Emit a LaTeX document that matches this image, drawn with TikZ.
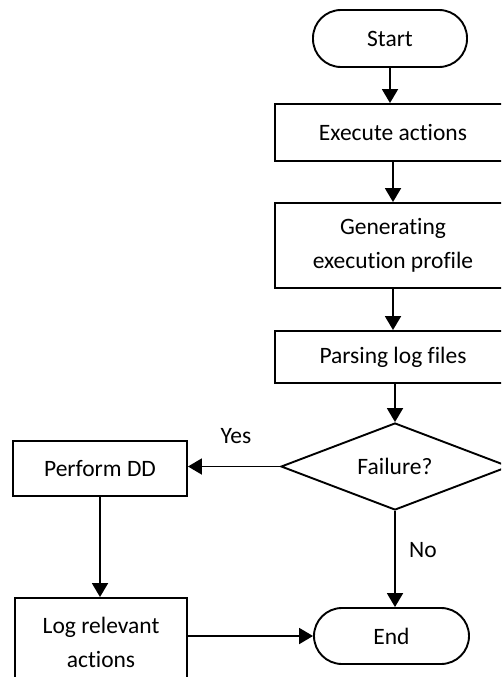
\documentclass[tikz,border=0pt]{standalone}
\usepackage{fontspec}
\setmainfont{Carlito}[Ligatures=NoCommon]
\usetikzlibrary{shapes.geometric,arrows.meta}
\begin{document}
\begin{tikzpicture}[x=1pt,y=-1pt,
  every node/.style={font=\fontsize{23.5}{34}\selectfont},
  base/.style={draw,line width=1.9pt,inner sep=0pt,align=center},
  procbox/.style={base,rectangle},
  term/.style={base,rectangle,rounded corners=28pt},
  decide/.style={base,diamond,shape aspect=2.6},
  flow/.style={line width=1.9pt,-{Triangle[length=14pt,width=16pt]}},
  lbl/.style={inner sep=0pt}]
\useasboundingbox (0,0) rectangle (501,677);
\clip (0,0) rectangle (501,677);

% main column
\node[term,minimum width=154pt,minimum height=57pt] (start) at (390,38.5) {Start};
\node[procbox,minimum width=236pt,minimum height=57pt] (exec) at (393,132.5) {Execute actions};
\node[procbox,minimum width=236pt,minimum height=85pt] (gen) at (393,245.5) {Generating\\execution profile};
\node[procbox,minimum width=236pt,minimum height=52pt] (parse) at (393,357) {Parsing log files};
\node[decide,minimum width=228pt,minimum height=87pt] (fail) at (395,466.5) {Failure?};
\node[term,minimum width=155pt,minimum height=56pt] (end) at (391.5,636) {End};

% left branch
\node[procbox,minimum width=174pt,minimum height=55pt] (dd) at (100,468.5) {Perform DD};
\node[procbox,minimum width=172pt,minimum height=88pt] (logrel) at (101,642) {Log relevant\\actions};

% connectors
\draw[flow] (start.south) -- (start.south |- exec.north);
\draw[flow] (exec.south) -- (exec.south |- gen.north);
\draw[flow] (gen.south) -- (gen.south |- parse.north);
\draw[flow] (parse.south -| fail.north) -- (fail.north);
\draw[flow] (fail.west) -- (fail.west -| dd.east);
\draw[flow] (fail.south) -- (fail.south |- end.north);
\draw[flow] (dd.south) -- (dd.south |- logrel.north);
\draw[flow] (logrel.east |- end.west) -- (end.west);

% branch labels
\node[lbl] (yes) at (236,436) {Yes};
\node[lbl] (no) at (423,550) {No};
\end{tikzpicture}
\end{document}
